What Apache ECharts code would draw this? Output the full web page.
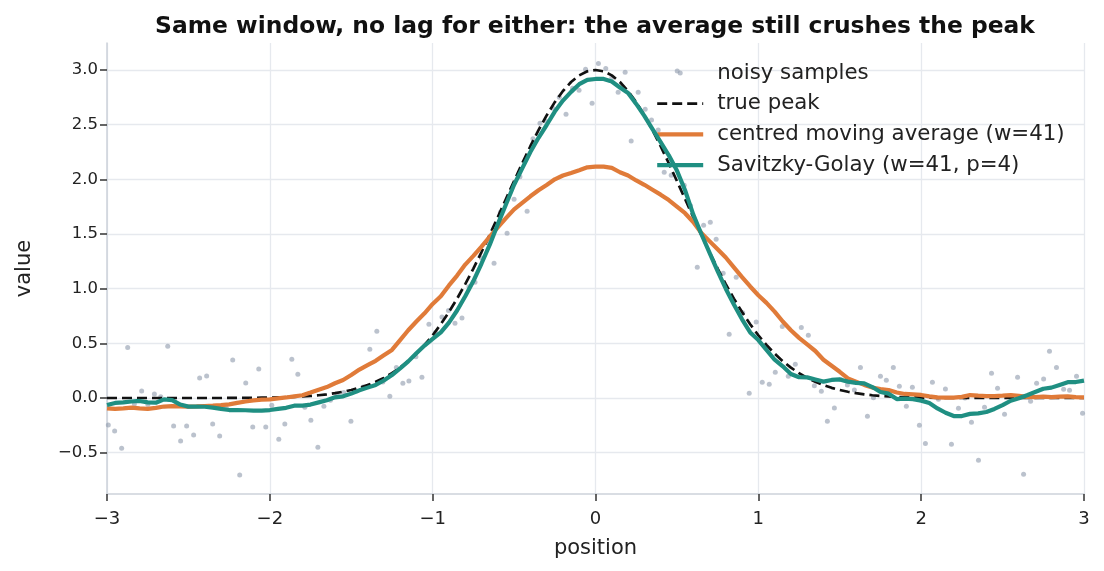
<!DOCTYPE html>
<html><head><meta charset="utf-8">
<script src="https://cdn.jsdelivr.net/npm/echarts@6/dist/echarts.min.js"></script>
<style>html,body{margin:0;padding:0;background:#fff}#c{width:1104px;height:571px}</style>
</head><body><div id="c"></div>
<script>
// ---- data ----
const xTicks = [-3, -2, -1, 0, 1, 2, 3];
const yTicks = [-0.5, 0, 0.5, 1.0, 1.5, 2.0, 2.5, 3.0];

const lineX = [
 -3.00,-2.95,-2.90,-2.85,-2.80,-2.75,-2.70,-2.65,-2.60,-2.55,
 -2.50,-2.45,-2.40,-2.35,-2.30,-2.25,-2.20,-2.15,-2.10,-2.05,
 -2.00,-1.95,-1.90,-1.85,-1.80,-1.75,-1.70,-1.65,-1.60,-1.55,
 -1.50,-1.45,-1.40,-1.35,-1.30,-1.25,-1.20,-1.15,-1.10,-1.05,
 -1.00,-0.95,-0.90,-0.85,-0.80,-0.75,-0.70,-0.65,-0.60,-0.55,
 -0.50,-0.45,-0.40,-0.35,-0.30,-0.25,-0.20,-0.15,-0.10,-0.05,
 0.00,0.05,0.10,0.15,0.20,0.25,0.30,0.35,0.40,0.45,
 0.50,0.55,0.60,0.65,0.70,0.75,0.80,0.85,0.90,0.95,
 1.00,1.05,1.10,1.15,1.20,1.25,1.30,1.35,1.40,1.45,
 1.50,1.55,1.60,1.65,1.70,1.75,1.80,1.85,1.90,1.95,
 2.00,2.05,2.10,2.15,2.20,2.25,2.30,2.35,2.40,2.45,
 2.50,2.55,2.60,2.65,2.70,2.75,2.80,2.85,2.90,2.95,
 3.00
];

const truePeak = [
 0,0,0,0,0,0,0,0,0,0,
 0,0,0,0,0,0.001,0.001,0.002,0.002,0.003,
 0.004,0.006,0.008,0.010,0.014,0.019,0.025,0.033,0.044,0.057,
 0.073,0.093,0.118,0.148,0.184,0.227,0.278,0.337,0.406,0.485,
 0.574,0.675,0.786,0.909,1.042,1.184,1.335,1.492,1.655,1.820,
 1.985,2.147,2.303,2.450,2.585,2.706,2.808,2.890,2.951,2.988,
 3.000,2.988,2.951,2.890,2.808,2.706,2.585,2.450,2.303,2.147,
 1.985,1.820,1.655,1.492,1.335,1.184,1.042,0.909,0.786,0.675,
 0.574,0.485,0.406,0.337,0.278,0.227,0.184,0.148,0.118,0.093,
 0.073,0.057,0.044,0.033,0.025,0.019,0.014,0.010,0.008,0.006,
 0.004,0.003,0.002,0.002,0.001,0.001,0,0,0,0,
 0,0,0,0,0,0,0,0,0,0,
 0
];

const movingAvg = [
 -0.095,-0.100,-0.095,-0.088,-0.095,-0.100,-0.090,-0.078,-0.074,-0.076,
 -0.079,-0.077,-0.073,-0.070,-0.065,-0.058,-0.045,-0.032,-0.022,-0.015,
 -0.012,-0.003,0.005,0.015,0.025,0.050,0.076,0.100,0.135,0.165,
 0.210,0.260,0.300,0.340,0.390,0.440,0.530,0.620,0.700,0.775,
 0.860,0.930,1.030,1.120,1.220,1.300,1.385,1.475,1.560,1.645,
 1.725,1.785,1.845,1.900,1.948,2.000,2.035,2.058,2.083,2.110,
 2.116,2.116,2.105,2.065,2.035,1.990,1.950,1.905,1.860,1.810,
 1.750,1.690,1.610,1.510,1.435,1.360,1.285,1.195,1.105,1.020,
 0.940,0.870,0.790,0.700,0.620,0.550,0.490,0.430,0.350,0.295,
 0.240,0.180,0.150,0.120,0.095,0.082,0.073,0.050,0.037,0.034,
 0.028,0.015,0.006,0.003,0.003,0.010,0.027,0.022,0.018,0.018,
 0.022,0.027,0.020,0.010,0.008,0.012,0.008,0.012,0.015,0.008,
 0.006
];

const savGol = [
 -0.064,-0.045,-0.040,-0.032,-0.027,-0.040,-0.043,-0.012,-0.020,-0.060,
 -0.079,-0.079,-0.080,-0.088,-0.100,-0.110,-0.110,-0.112,-0.116,-0.116,
 -0.110,-0.100,-0.090,-0.070,-0.070,-0.060,-0.040,-0.020,0.006,0.015,
 0.040,0.070,0.095,0.120,0.160,0.210,0.270,0.335,0.410,0.480,
 0.540,0.600,0.690,0.800,0.930,1.070,1.230,1.400,1.590,1.770,
 1.950,2.100,2.250,2.380,2.497,2.620,2.720,2.800,2.870,2.910,
 2.918,2.918,2.895,2.840,2.790,2.690,2.580,2.460,2.340,2.220,
 2.080,1.900,1.680,1.500,1.330,1.160,1.000,0.855,0.720,0.600,
 0.530,0.440,0.350,0.290,0.220,0.190,0.189,0.170,0.150,0.165,
 0.170,0.150,0.138,0.134,0.100,0.055,0.040,-0.010,-0.005,-0.010,
 -0.024,-0.045,-0.095,-0.135,-0.165,-0.165,-0.145,-0.140,-0.128,-0.100,
 -0.065,-0.025,-0.003,0.025,0.055,0.085,0.095,0.120,0.145,0.146,
 0.159
];

const sampleX = [
 -2.992,-2.953,-2.910,-2.873,-2.832,-2.787,-2.749,-2.709,-2.670,-2.627,
 -2.591,-2.548,-2.511,-2.468,-2.431,-2.388,-2.351,-2.308,-2.268,-2.228,
 -2.185,-2.148,-2.105,-2.068,-2.025,-1.988,-1.945,-1.908,-1.865,-1.828,
 -1.785,-1.748,-1.705,-1.668,-1.628,-1.587,-1.546,-1.502,-1.466,-1.426,
 -1.386,-1.343,-1.306,-1.263,-1.223,-1.183,-1.146,-1.103,-1.066,-1.023,
 -0.983,-0.943,-0.903,-0.863,-0.820,-0.777,-0.740,-0.700,-0.660,-0.623,
 -0.584,-0.543,-0.500,-0.464,-0.420,-0.384,-0.341,-0.304,-0.262,-0.222,
 -0.181,-0.141,-0.101,-0.061,-0.021,0.018,0.063,0.100,0.139,0.182,
 0.219,0.262,0.305,0.344,0.385,0.422,0.465,0.502,0.545,0.584,
 0.625,0.664,0.705,0.741,0.784,0.821,0.864,0.904,0.944,0.987,
 1.024,1.067,1.104,1.147,1.184,1.227,1.264,1.307,1.344,1.387,
 1.424,1.467,1.507,1.547,1.590,1.627,1.670,1.707,1.750,1.786,
 1.829,1.866,1.909,1.946,1.989,2.026,2.069,2.106,2.149,2.186,
 2.229,2.269,2.309,2.352,2.389,2.432,2.469,2.512,2.552,2.592,
 2.629,2.672,2.709,2.752,2.788,2.831,2.875,2.911,2.954,2.991
];
const sampleY = [
 -0.247,-0.302,-0.460,0.463,-0.055,0.064,-0.060,0.037,0.012,0.473,
 -0.256,-0.393,-0.256,-0.338,0.183,0.201,-0.238,-0.348,-0.090,0.348,
 -0.704,0.137,-0.265,0.265,-0.265,-0.067,-0.378,-0.238,0.354,0.217,
 -0.085,-0.204,-0.451,-0.076,-0.020,0.030,0.050,-0.213,0.064,0.100,
 0.445,0.610,0.146,0.015,0.280,0.134,0.155,0.378,0.189,0.674,
 0.600,0.741,0.800,0.683,0.732,1.018,1.058,1.280,1.420,1.232,
 1.700,1.506,1.817,2.024,1.707,2.372,2.512,2.531,2.650,2.750,
 2.595,2.833,2.814,3.007,2.695,3.060,3.013,2.930,2.796,2.980,
 2.351,2.796,2.640,2.543,2.451,2.064,2.037,2.991,1.945,1.759,
 1.195,1.580,1.607,1.452,1.140,0.583,1.104,0.780,0.043,0.695,
 0.143,0.125,0.235,0.655,0.198,0.308,0.646,0.573,0.113,0.061,
 -0.213,-0.091,0.170,0.120,0.073,0.280,-0.168,0.003,0.198,0.162,
 0.280,0.107,-0.076,0.098,-0.250,-0.415,0.143,-0.012,0.082,-0.424,
 -0.094,0.000,-0.222,-0.570,-0.085,0.226,0.089,-0.149,0.020,0.189,
 -0.698,-0.030,0.134,0.174,0.427,0.280,0.080,0.070,0.198,-0.140
];

const seriesNames = ['noisy samples', 'true peak', 'centred moving average (w=41)', 'Savitzky-Golay (w=41, p=4)'];

// ---- chart ----
const pairs = (xs, ys) => xs.map((x, i) => [x, ys[i]]);
const minus = s => s.replace('-', '\u2212');
const FONT = 'DejaVu Sans';
const C_TRUE = '#111111', C_MA = '#e07b39', C_SG = '#1f8f82';

const chart = echarts.init(document.getElementById('c'), null, {renderer: 'canvas'});
chart.setOption({
  animation: false,
  backgroundColor: '#ffffff',
  textStyle: {fontFamily: FONT},
  title: {
    text: 'Same window, no lag for either: the average still crushes the peak',
    left: 590, top: 10, textAlign: 'center',
    textStyle: {fontFamily: FONT, fontSize: 23.4, fontWeight: 'bold', color: '#111'}
  },
  grid: {left: 107, right: 20, top: 43, bottom: 77, containLabel: false},
  legend: {
    orient: 'vertical', left: 655, top: 61, padding: 0,
    itemWidth: 46, itemHeight: 5, itemGap: 6.7,
    textStyle: {fontFamily: FONT, fontSize: 21.3, color: '#222', lineHeight: 24, padding: [0, 0, 0, 9]},
    data: [
      {name: seriesNames[0], icon: 'circle'},
      {name: seriesNames[1], itemStyle: {opacity: 0}, lineStyle: {color: C_TRUE, width: 2.7, type: [10, 5]}},
      {name: seriesNames[2], itemStyle: {opacity: 0}, lineStyle: {color: C_MA, width: 4.4}},
      {name: seriesNames[3], itemStyle: {opacity: 0}, lineStyle: {color: C_SG, width: 4.4}}
    ]
  },
  xAxis: {
    type: 'value', min: -3, max: 3, interval: 1,
    name: 'position', nameLocation: 'middle', nameGap: 44,
    nameTextStyle: {fontFamily: FONT, fontSize: 21, color: '#222'},
    axisLine: {show: true, onZero: false, lineStyle: {color: '#cdd2da', width: 1.5}},
    axisTick: {show: true, length: 7, customValues: xTicks, lineStyle: {color: '#333', width: 1.5}},
    axisLabel: {customValues: xTicks, margin: 16, fontFamily: FONT, fontSize: 18, color: '#222',
      formatter: v => minus(String(v))},
    splitLine: {show: true, lineStyle: {color: '#e6e9ee', width: 1.3}}
  },
  yAxis: {
    type: 'value', min: -0.878, max: 3.247, splitNumber: 8,
    name: 'value', nameLocation: 'middle', nameGap: 72,
    nameTextStyle: {fontFamily: FONT, fontSize: 21, color: '#222'},
    axisLine: {show: true, onZero: false, lineStyle: {color: '#cdd2da', width: 1.5}},
    axisTick: {show: true, length: 7, customValues: yTicks, lineStyle: {color: '#333', width: 1.5}},
    axisLabel: {customValues: yTicks, margin: 9, fontFamily: FONT, fontSize: 16.5, color: '#222',
      formatter: v => minus(Number(v).toFixed(1))},
    splitLine: {show: true, lineStyle: {color: '#e6e9ee', width: 1.3}}
  },
  series: [
    {
      name: seriesNames[0], type: 'scatter', data: pairs(sampleX, sampleY),
      symbol: 'circle', symbolSize: 5, z: 1,
      itemStyle: {color: '#8e9aab', opacity: 0.6}
    },
    {
      name: seriesNames[1], type: 'line', data: pairs(lineX, truePeak),
      symbol: 'none', showSymbol: false, z: 2,
      lineStyle: {color: C_TRUE, width: 2.7, type: [10, 5]},
      itemStyle: {color: C_TRUE}
    },
    {
      name: seriesNames[2], type: 'line', data: pairs(lineX, movingAvg),
      symbol: 'none', showSymbol: false, z: 3,
      lineStyle: {color: C_MA, width: 4.2},
      itemStyle: {color: C_MA}
    },
    {
      name: seriesNames[3], type: 'line', data: pairs(lineX, savGol),
      symbol: 'none', showSymbol: false, z: 4,
      lineStyle: {color: C_SG, width: 4.2},
      itemStyle: {color: C_SG}
    }
  ]
});
</script></body></html>
